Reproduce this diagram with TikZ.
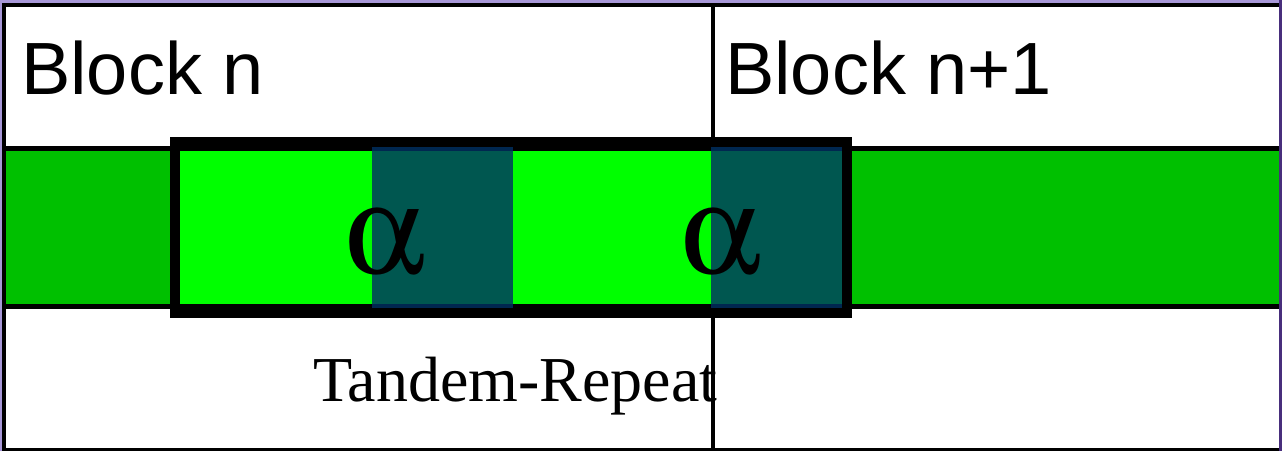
\documentclass[tikz,border=0pt]{standalone}
\usepackage[Symbol]{upgreek}
\usepackage{fontspec}
\setmainfont{Liberation Serif}
\newfontfamily\arialfont{Liberation Sans}
\definecolor{lav}{RGB}{168,152,216}
\definecolor{dpurple}{RGB}{72,46,124}
\definecolor{dgreen}{RGB}{0,192,0}
\definecolor{lgreen}{RGB}{0,255,0}
\definecolor{tealc}{RGB}{0,49,99}
\tikzset{
  blocklabel/.style={anchor=base west, inner sep=0pt, font=\arialfont\fontsize{74}{74}\selectfont},
  alphalabel/.style={anchor=base west, inner sep=0pt, font=\fontsize{128}{128}\selectfont},
  trlabel/.style={anchor=base west, inner sep=0pt, font=\fontsize{64}{64}\selectfont},
  thinline/.style={line width=5pt, black},
  frameline/.style={line width=4pt, black},
  repbox/.style={fill=tealc, fill opacity=0.81, draw=none},
  tandembox/.style={draw=black, line width=10pt}
}
\begin{document}
\begin{tikzpicture}[x=1pt,y=-1pt]
\useasboundingbox (0,0) rectangle (1282,451);
\fill[white] (0,0) rectangle (1282,451);
% outer border
\fill[lav] (0,0) rectangle (1282,3);
\fill[lav] (0,0) rectangle (2,451);
\fill[dpurple] (1279,0) rectangle (1282,451);
\draw[frameline] (2,5) -- (1279,5);
\draw[frameline] (4,3) -- (4,451);
\draw[line width=3pt] (2,449.5) -- (1279,449.5);
% labels
\node[blocklabel] (bn) at (21,94) {Block n};
\node[blocklabel] (bn1) at (725,94) {Block n+1};
\node[trlabel] (tr) at (313,401) {Tandem-Repeat};
% divider
\draw[frameline] (713,6) -- (713,448);
% green band
\fill[dgreen] (6,151) rectangle (1279,304);
\fill[lgreen] (175,151) rectangle (847,304);
\draw[thinline] (6,148.5) -- (1279,148.5);
\draw[thinline] (6,306.5) -- (1279,306.5);
% repeat units
\fill[repbox] (372,146) rectangle (513,309);
\fill[repbox] (711,146) rectangle (842,309);
\node[alphalabel] (a1) at (344,273) {$\upalpha$};
\node[alphalabel] (a2) at (680,273) {$\upalpha$};
% tandem repeat box
\draw[tandembox] (175,142) rectangle (847,313);
\end{tikzpicture}
\end{document}
